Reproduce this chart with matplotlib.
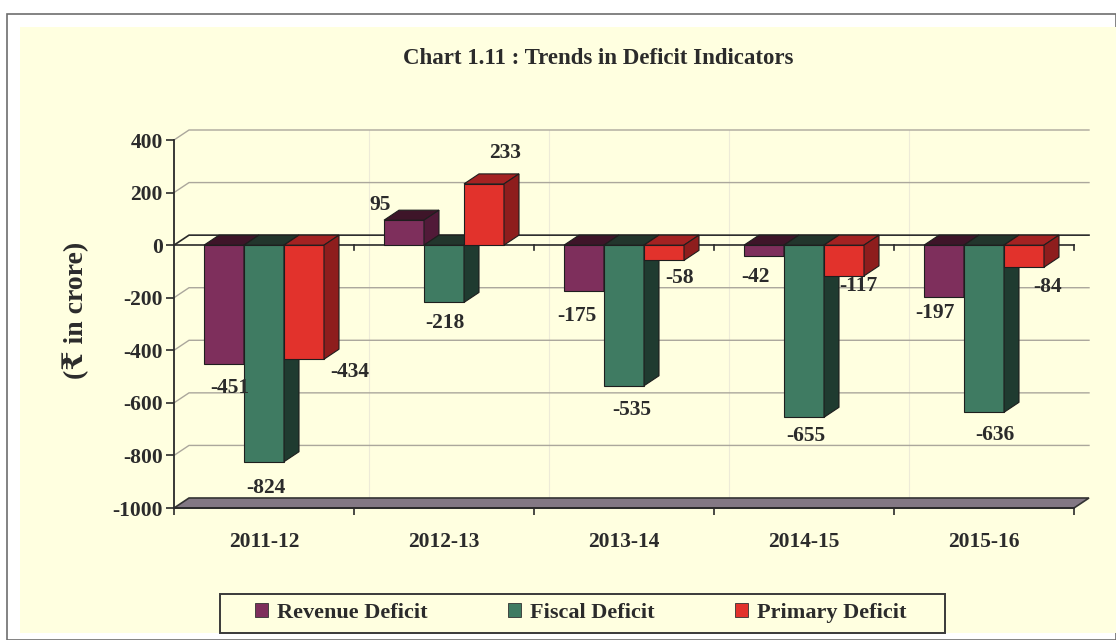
import matplotlib
matplotlib.use("Agg")
import matplotlib.pyplot as plt
from matplotlib.patches import Polygon, Rectangle, Patch

# ---------------- data ----------------
categories = ["2011-12", "2012-13", "2013-14", "2014-15", "2015-16"]
revenue_deficit = [-451, 95, -175, -42, -197]
fiscal_deficit = [-824, -218, -535, -655, -636]
primary_deficit = [-434, 233, -58, -117, -84]
series_names = ["Revenue Deficit", "Fiscal Deficit", "Primary Deficit"]
y_ticks = [400, 200, 0, -200, -400, -600, -800, -1000]
title = "Chart 1.11 : Trends in Deficit Indicators"
y_label = "(\u20b9 in crore)"

# ---------------- styles ----------------
W, H = 1116, 640
DPI = 100
SERIF = ["Liberation Serif", "DejaVu Serif", "DejaVu Sans"]
plt.rcParams["font.family"] = SERIF
plt.rcParams["font.weight"] = "bold"

front_cols = ["#7E2F5C", "#3F7B62", "#E2322C"]
side_cols = ["#511A38", "#1F3B30", "#8E1D1D"]
top_cols = ["#3E1529", "#22352C", "#A42222"]
bg_yellow = "#FFFFE0"
grid_col = "#ABA79C"
dark = "#2A2A2A"
txt_col = "#2B2B2B"

# label nudges (pixels, relative to the bar end, +y downward)
label_offsets = [
    [(6, 24), (-24, -15), (-7, 25), (-9, 21), (-9, 16)],
    [(2, 26), (1, 21), (8, 24), (2, 19), (11, 23)],
    [(46, 13), (21, -31), (16, 18), (14, 10), (24, 20)],
]

fig = plt.figure(figsize=(W / DPI, H / DPI), dpi=DPI, facecolor="white")

# outer frame + yellow panel
fig.patches.append(Rectangle((7 / W, 0), (W - 7) / W, (H - 14) / H, transform=fig.transFigure,
                             facecolor="white", edgecolor="#6E6E6E", lw=1.2, zorder=-3))
fig.patches.append(Rectangle((20 / W, 7 / H), (W - 20) / W, (H - 27 - 7) / H, transform=fig.transFigure,
                             facecolor=bg_yellow, edgecolor="none", zorder=-2))

ax_left, ax_right = 174 / W, 1074 / W
ax_bottom, ax_top = 1 - 508 / H, 1 - 140 / H
ax = fig.add_axes([ax_left, ax_bottom, ax_right - ax_left, ax_top - ax_bottom])
ax.set_facecolor("none")

ymin, ymax = -1000, 400
ax.set_xlim(0, len(categories))
ax.set_ylim(ymin, ymax)

px_per_x = (1074 - 174) / len(categories)
px_per_y = (508 - 140) / (ymax - ymin)
DX = 15 / px_per_x
DY = 10 / px_per_y

# back wall grid lines
for t in y_ticks:
    if t == ymin:
        continue
    col = dark if t == 0 else grid_col
    lw = 1.2 if t == 0 else 1.0
    ax.plot([0, DX, len(categories) + DX], [t, t + DY, t + DY], color=col, lw=lw,
            clip_on=False, zorder=1)
# faint verticals on the back wall
for k in range(1, len(categories)):
    ax.plot([k + DX, k + DX], [ymin + DY, ymax + DY], color="#EDEBD8", lw=0.8, clip_on=False, zorder=0.5)

# floor
floor = Polygon([(0, ymin), (len(categories), ymin), (len(categories) + DX, ymin + DY), (DX, ymin + DY)],
                closed=True, facecolor="#837884", edgecolor="#333333", lw=1.2, clip_on=False, zorder=1.5)
ax.add_patch(floor)

# front zero line (category axis crossing) with ticks
ax.plot([0, len(categories)], [0, 0], color=dark, lw=1.2, zorder=1.6, clip_on=False)
for k in range(1, len(categories) + 1):
    ax.plot([k, k], [0, -5 / px_per_y], color=dark, lw=1.2, zorder=1.6, clip_on=False)

# bars
bw = 40 / px_per_x
all_series = [revenue_deficit, fiscal_deficit, primary_deficit]
for i, cat in enumerate(categories):
    c = i + 0.5
    for s, vals in enumerate(all_series):
        v = vals[i]
        x0 = c - 1.5 * bw + s * bw
        x1 = x0 + bw
        z = 2 + i * 0.1 + s * 0.01
        top_y = max(v, 0)
        # front
        ax.add_patch(Polygon([(x0, 0), (x1, 0), (x1, v), (x0, v)], closed=True,
                             facecolor=front_cols[s], edgecolor="#1E1E1E", lw=0.8, zorder=z, clip_on=False))
        # top
        ax.add_patch(Polygon([(x0, top_y), (x1, top_y), (x1 + DX, top_y + DY), (x0 + DX, top_y + DY)],
                             closed=True, facecolor=top_cols[s], edgecolor="#1E1E1E", lw=0.8,
                             zorder=z, clip_on=False))
        # side
        ax.add_patch(Polygon([(x1, 0), (x1 + DX, DY), (x1 + DX, v + DY), (x1, v)], closed=True,
                             facecolor=side_cols[s], edgecolor="#1E1E1E", lw=0.8, zorder=z, clip_on=False))
        # label
        ox, oy = label_offsets[s][i]
        ax.annotate(f"{v}", xy=((x0 + x1) / 2, v), xytext=(ox, -oy), textcoords="offset pixels",
                    ha="center", va="center", fontsize=15.5, fontweight="bold", color=txt_col,
                    zorder=10, annotation_clip=False)

# axes styling
for side in ["top", "right"]:
    ax.spines[side].set_visible(False)
ax.spines["left"].set_color(dark)
ax.spines["left"].set_linewidth(1.3)
ax.spines["bottom"].set_color(dark)
ax.spines["bottom"].set_linewidth(1.3)
ax.spines["left"].set_zorder(5)
ax.spines["bottom"].set_zorder(5)

ax.set_yticks(y_ticks)
ax.set_yticklabels([str(t) for t in y_ticks])
ax.tick_params(axis="y", direction="out", length=6, width=1.2, color=dark, pad=2,
               labelsize=15.5, labelcolor=txt_col)
ax.set_xticks(range(0, len(categories) + 1))
ax.set_xticklabels([""] * (len(categories) + 1))
ax.tick_params(axis="x", which="major", direction="out", length=5, width=1.2, color=dark)
ax.set_xticks([i + 0.5 for i in range(len(categories))], minor=True)
ax.set_xticklabels(categories, minor=True)
ax.tick_params(axis="x", which="minor", length=0, pad=17, labelsize=15.5, labelcolor=txt_col)
for lab in ax.get_xticklabels(minor=True) + ax.get_yticklabels():
    lab.set_fontweight("bold")

# y label and title
fig.text(76 / W, 1 - 310 / H, y_label, rotation=90, ha="center", va="center",
         fontsize=20, fontweight="bold", color=txt_col, family=SERIF)
fig.text(598 / W, 1 - 58 / H, title, ha="center", va="center",
         fontsize=16.5, fontweight="bold", color=txt_col)

# legend: box + entries
fig.patches.append(Rectangle((220 / W, 1 - 633 / H), (945 - 220) / W, (633 - 594) / H,
                             transform=fig.transFigure, facecolor=bg_yellow,
                             edgecolor="#3A3A3A", lw=1.4, zorder=-1))
handles = [Patch(facecolor=front_cols[s], edgecolor="#333333", lw=0.6) for s in range(3)]
leg = fig.legend(handles, series_names, loc="center left", ncol=3,
                 bbox_to_anchor=(255 / W, 1 - 613 / H),
                 frameon=False, handlelength=0.6, handleheight=0.6, handletextpad=0.4,
                 columnspacing=3.6, borderpad=0.0, borderaxespad=0.0,
                 prop={"family": SERIF, "weight": "bold", "size": 16})
for txt in leg.get_texts():
    txt.set_color(txt_col)

fig.savefig("out.png", dpi=DPI, facecolor=fig.get_facecolor())
